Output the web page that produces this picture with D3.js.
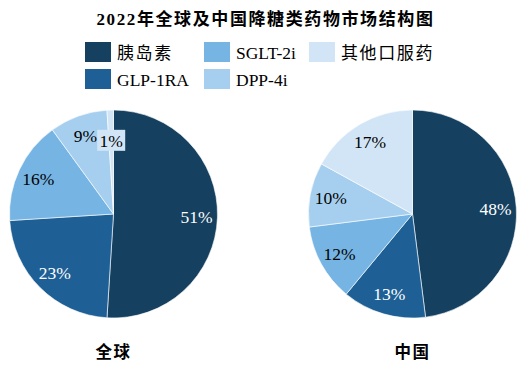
<!DOCTYPE html>
<html><head><meta charset="utf-8">
<script src="https://cdn.jsdelivr.net/npm/d3@7"></script>
<style>body{margin:0;background:#fff}svg{display:block}</style>
</head><body>
<svg id="c" width="531" height="373"></svg>
<script>
const title = "2022年全球及中国降糖类药物市场结构图";
const categories = ["胰岛素", "GLP-1RA", "SGLT-2i", "DPP-4i", "其他口服药"];
const colors = ["#15405f", "#1e6095", "#76b4e3", "#a6cfef", "#d2e5f6"];
const globalValues = [51, 23, 16, 9, 1];
const chinaValues = [48, 13, 12, 10, 17];
const pieNames = ["全球", "中国"];

const svg = d3.select("#c");
const font = "'Liberation Serif','Noto Sans CJK SC',serif";
const isCJK = s => /[\u4e00-\u9fff]/.test(s);

svg.append("text").attr("x", 265.5).attr("y", 24.5).attr("text-anchor", "middle")
  .attr("font-family", font).attr("font-weight", "bold").attr("font-size", 17)
  .attr("letter-spacing", 1.6).attr("fill", "#000").text(title);

// legend
const legendLayout = [[85, 42], [85, 69], [204, 42], [204, 69], [309, 42]];
categories.forEach((c, i) => {
  const [lx, ly] = legendLayout[i];
  svg.append("rect").attr("x", lx).attr("y", ly).attr("width", 26).attr("height", 20).attr("fill", colors[i]);
  svg.append("text").attr("x", lx + 32).attr("y", ly + 16.5).attr("font-family", font)
    .attr("font-size", isCJK(c) ? 17 : 17.5).attr("letter-spacing", isCJK(c) ? 1.6 : 0)
    .attr("fill", "#000").text(c);
});

const pie = d3.pie().sort(null).value(d => d);
const R = 104;
const arc = d3.arc().innerRadius(0).outerRadius(R);
const labelArc = d3.arc().innerRadius(R * 0.8).outerRadius(R * 0.8);

function drawPie(values, cx, cy, name) {
  const g = svg.append("g").attr("transform", `translate(${cx},${cy})`);
  const arcs = pie(values);
  g.selectAll("path").data(arcs).join("path")
    .attr("d", arc).attr("fill", (d, i) => colors[i])
    .attr("stroke", "#fff").attr("stroke-width", 0.6);
  arcs.forEach((d, i) => {
    let [x, y] = labelArc.centroid(d);
    const small = d.data < 3;
    if (small) { const f = 0.88; x *= f; y *= f; }
    const txt = d.data + "%";
    if (small) {
      g.append("rect").attr("x", x - 14).attr("y", y - 11).attr("width", 28).attr("height", 21)
        .attr("fill", colors[i]);
    }
    g.append("text").attr("x", x).attr("y", y + 6).attr("text-anchor", "middle")
      .attr("font-family", font).attr("font-size", 17.5)
      .attr("fill", i < 2 ? "#fff" : "#000").text(txt);
  });
  svg.append("text").attr("x", cx).attr("y", 358).attr("text-anchor", "middle")
    .attr("font-family", font).attr("font-weight", "bold").attr("font-size", 16.5)
    .attr("letter-spacing", 1.5).attr("fill", "#000").text(name);
}
drawPie(globalValues, 113.5, 214, pieNames[0]);
drawPie(chinaValues, 412.5, 214, pieNames[1]);
</script>
</body></html>
